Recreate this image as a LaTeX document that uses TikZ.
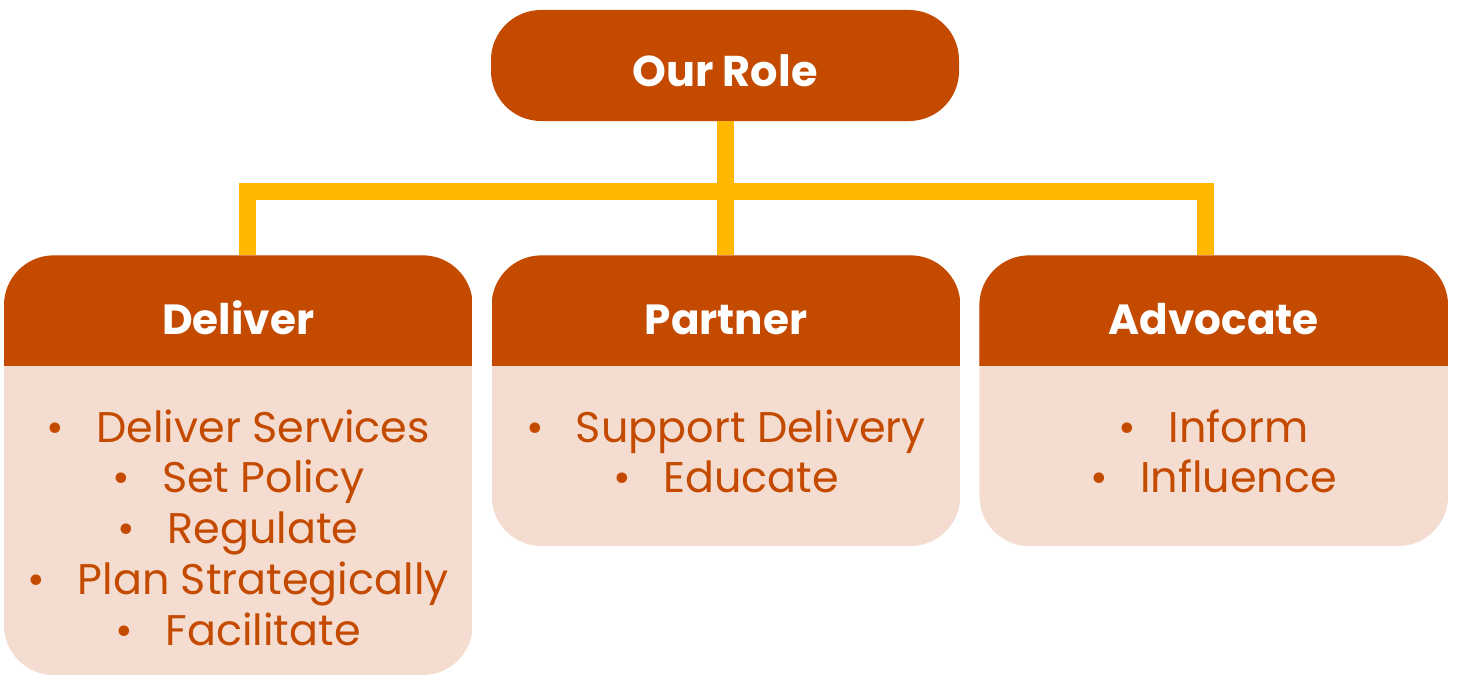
\documentclass[tikz,border=0pt]{standalone}
\usepackage{fontspec}
\setmainfont{Poppins}
\usetikzlibrary{positioning,backgrounds}
\definecolor{rust}{RGB}{196,74,0}
\definecolor{blush}{RGB}{244,221,208}
\definecolor{amber}{RGB}{255,183,0}
\newcommand{\roleitem}[1]{\textbullet\hspace{0.75em}#1}

\begin{document}
\begin{tikzpicture}[
  node distance=0.38cm,
  role/.style={fill=rust, text=white, font=\fontsize{24.5}{28}\selectfont\bfseries,
               minimum width=9.36cm, minimum height=2.22cm, rounded corners=1cm,
               text height=0.86cm, text depth=0cm},
  head/.style={text=white, font=\fontsize{24}{28}\selectfont\bfseries,
               minimum width=9.36cm, minimum height=2.2cm, inner sep=0pt,
               text height=0.95cm, text depth=0cm},
  duties/.style={text=rust, font=\fontsize{24.4}{28.9}\selectfont, align=center,
                 inner sep=0pt, below=0.86cm},
  link/.style={draw=amber, line width=0.34cm}]
\useasboundingbox (0,0) rectangle (29.16,-13.54);

\node[role] (ourrole) at (14.5,-1.31) {Our Role};
\node[head] (partner)  [below=2.68cm of ourrole, xshift=0.02cm] {Partner};
\node[head] (deliver)  [left=of partner]  {Deliver};
\node[head] (advocate) [right=of partner] {Advocate};

\node[duties] (deliverlist) [below=0.86cm of deliver]
  {\roleitem{Deliver Services}\\ \roleitem{Set Policy}\\ \roleitem{Regulate}\\
   \roleitem{Plan Strategically}\\ \roleitem{Facilitate}};
\node[duties] (partnerlist) [below=0.86cm of partner]
  {\roleitem{Support Delivery}\\ \roleitem{Educate}};
\node[duties] (advocatelist) [below=0.86cm of advocate]
  {\roleitem{Inform}\\ \roleitem{Influence}};

\draw[link] (ourrole.south) -- (ourrole.south |- partner.north);
\draw[link] ([xshift=0.19cm]deliver.north) -- ++(0,1.27) -| ([xshift=-0.17cm]advocate.north);

% panels: pale body under a rust header, rounded as one piece
\begin{scope}[on background layer]
\foreach \h/\d in {deliver/6.18, partner/3.6, advocate/3.6}{
  \begin{scope}
    \clip[rounded corners=1cm] (\h.north west) rectangle ([yshift=-\d cm]\h.south east);
    \fill[blush] (\h.north west) rectangle ([yshift=-\d cm]\h.south east);
    \fill[rust] (\h.north west) rectangle (\h.south east);
  \end{scope}
}
\end{scope}
\end{tikzpicture}
\end{document}
